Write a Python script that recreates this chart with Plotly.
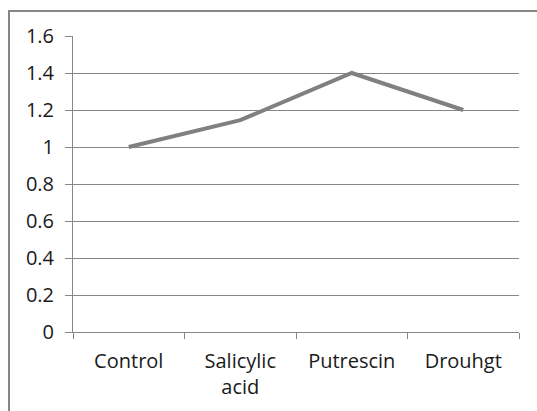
import plotly.graph_objects as go

categories = ["Control", "Salicylic<br>acid", "Putrescin", "Drouhgt"]
values = [1.0, 1.145, 1.40, 1.20]
y_ticks = [0, 0.2, 0.4, 0.6, 0.8, 1, 1.2, 1.4, 1.6]
y_labels = ["0", "0.2", "0.4", "0.6", "0.8", "1", "1.2", "1.4", "1.6"]

W, H = 537, 411
L, R, T, B = 73, 18, 36, 79
pw, ph = W - L - R, H - T - B

def px_x(p):
    return (p - L) / pw

def px_y(p):
    return (H - B - p) / ph

fig = go.Figure()
fig.add_trace(go.Scatter(
    x=categories, y=values, mode="lines",
    line=dict(color="#808080", width=4),
    hoverinfo="skip", showlegend=False,
))

font = dict(family="'Open Sans', sans-serif", size=20, color="#1a1a1a")

fig.update_layout(
    width=W, height=H,
    margin=dict(l=L, r=R, t=T, b=B),
    paper_bgcolor="white", plot_bgcolor="white",
    font=font,
    xaxis=dict(
        type="category", tickson="boundaries", ticks="outside", ticklen=6,
        tickcolor="#868686", tickwidth=1,
        showline=True, linecolor="#868686", linewidth=1,
        showgrid=False, zeroline=False, range=[-0.5, 3.5],
        tickfont=font, fixedrange=True, ticklabelstandoff=11,
    ),
    yaxis=dict(
        range=[0, 1.6], tickvals=y_ticks, ticktext=y_labels,
        ticks="outside", ticklen=7, tickcolor="#868686", tickwidth=1,
        showline=True, linecolor="#868686", linewidth=1,
        showgrid=True, gridcolor="#868686", gridwidth=1,
        zeroline=False, tickfont=font, fixedrange=True, ticklabelstandoff=7,
    ),
    shapes=[dict(
        type="rect", xref="paper", yref="paper",
        x0=px_x(9), x1=px_x(560), y0=px_y(11), y1=px_y(430),
        line=dict(color="#868686", width=2), fillcolor="rgba(0,0,0,0)",
        layer="below",
    )],
)

fig.write_html("out.html")
